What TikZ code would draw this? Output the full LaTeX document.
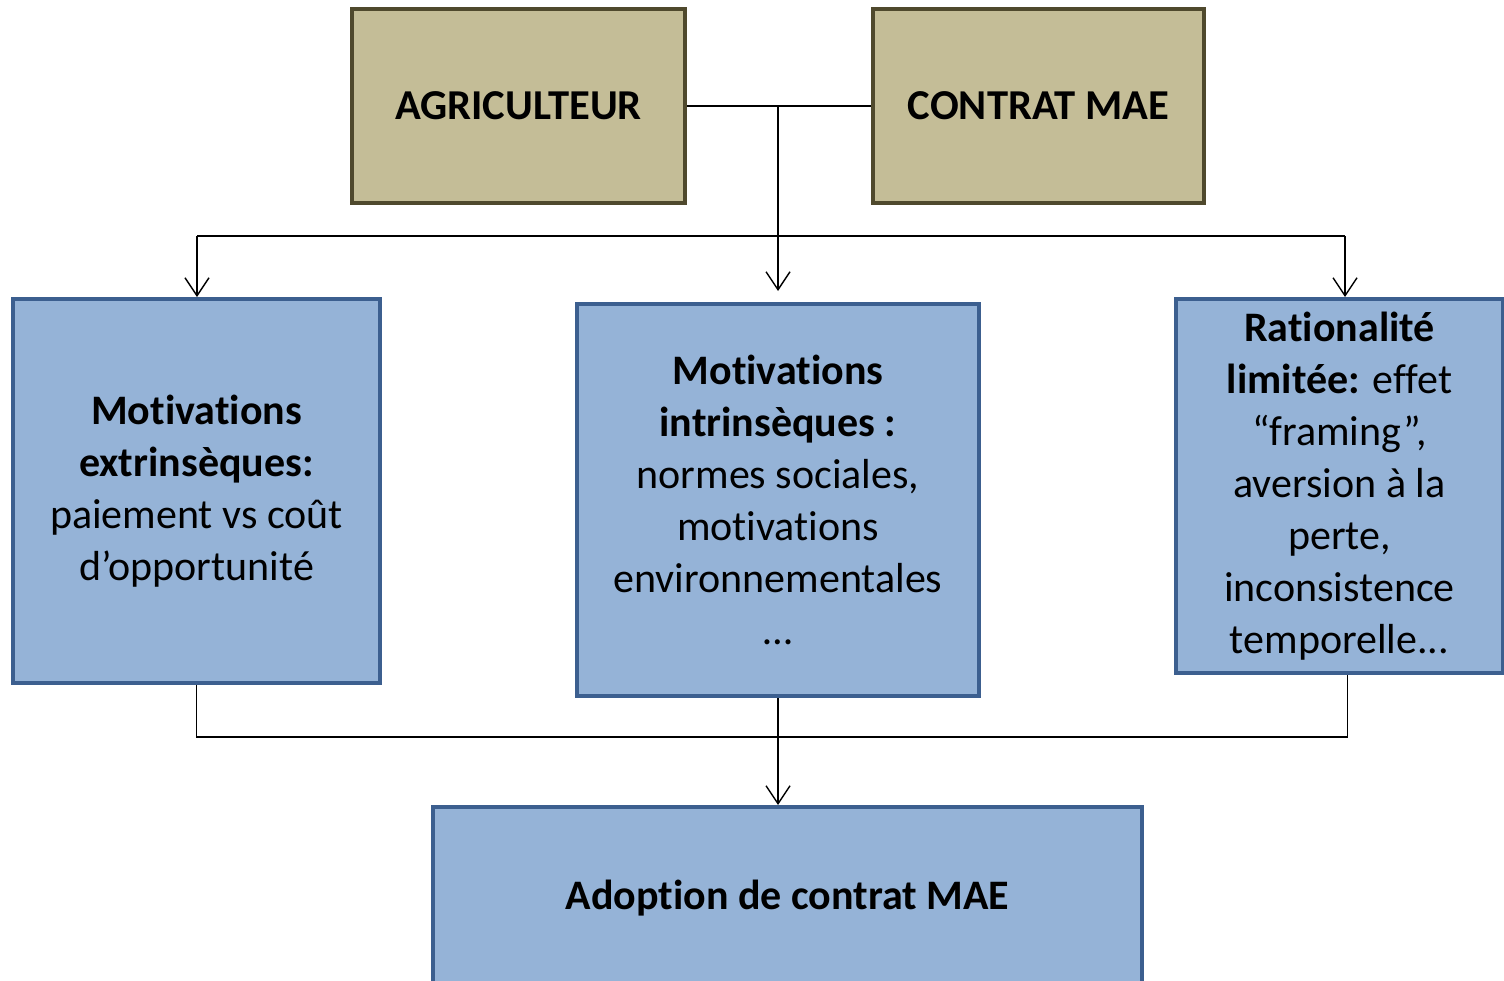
\documentclass[tikz,border=0pt]{standalone}
\usepackage{fontspec}
\setmainfont{Carlito}[RawFeature=-liga]
\usetikzlibrary{arrows.meta}
\definecolor{tanfill}{RGB}{196,189,151}
\definecolor{tanline}{RGB}{79,73,45}
\definecolor{bluefill}{RGB}{149,179,215}
\definecolor{blueline}{RGB}{60,95,143}
\begin{document}
\begin{tikzpicture}[x=0.5pt,y=-0.5pt,
  tanbox/.style={draw=tanline, fill=tanfill, line width=2pt,
    font=\fontsize{21.3}{26}\selectfont\bfseries},
  bluebox/.style={draw=blueline, fill=bluefill, line width=2pt,
    align=center, font=\fontsize{21}{26}\selectfont},
  link/.style={line width=0.7pt},
  arr/.style={link, -{Straight Barb[length=9pt,width=12pt]}}]
  \useasboundingbox (0,0) rectangle (1504,980);
  %top boxes
  \node[tanbox, minimum width=166.5pt, minimum height=97pt] (agri) at (518.5,106) {AGRICULTEUR};
  \node[tanbox, minimum width=165.5pt, minimum height=97pt] (contrat) at (1038.5,106) {CONTRAT MAE};
  %middle row
  \node[bluebox, minimum width=183.5pt, minimum height=192pt] (extr) at (196.5,491)
  {\textbf{Motivations}\\ \textbf{extrinsèques:}\\ paiement vs coût\\ d’opportunité};
  \node[bluebox, minimum width=201pt, minimum height=196pt] (intr) at (778,500)
  {\textbf{Motivations}\\ \textbf{intrinsèques :}\\ normes sociales,\\ motivations\\ environnementales\\ …};
  \node[bluebox, minimum width=163.5pt, minimum height=187pt] (ratio) at (1339.5,486)
  {\textbf{Rationalité}\\ \textbf{limitée:} effet\\ “framing”,\\ aversion à la\\ perte,\\ inconsistence\\ temporelle...};
  %bottom box
  \node[bluebox, minimum width=354.5pt, minimum height=91.5pt] (adopt) at (787.5,898.5)
  {\textbf{Adoption de contrat MAE}};
  %connectors
  \coordinate (join) at (agri.east -| intr.north);
  \coordinate (busL) at (197,236);
  \coordinate (busR) at (1345,236);
  \coordinate (low) at (778,737);
  \draw[link] (agri) -- (contrat);
  \draw[arr] (join) -- ([yshift=5.5pt]intr.north);
  \draw[link] (busL) -- (busR);
  \draw[arr] (busL) -- (busL |- extr.north);
  \draw[arr] (busR) -- (busR |- ratio.north);
  \draw[link] (extr.south) -- (extr.south |- low) -- ([xshift=4pt]ratio.south |- low) -- ([xshift=4pt]ratio.south);
  \draw[arr] (intr.south) -- (intr.south |- adopt.north);
\end{tikzpicture}
\end{document}
